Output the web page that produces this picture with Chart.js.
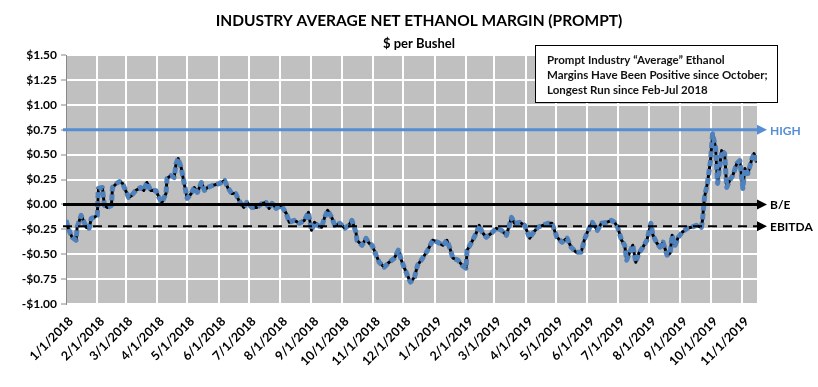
<!DOCTYPE html>
<html>
<head>
<meta charset="utf-8">
<script src="https://cdn.jsdelivr.net/npm/chart.js@4.4.1/dist/chart.umd.min.js"></script>
<style>
  html, body { margin: 0; padding: 0; background: #fff; }
  #wrap { width: 818px; height: 387px; }
</style>
</head>
<body>
<div id="wrap"><canvas id="margin"></canvas></div>
<script>
// days counted from 1/1/2018, margin in $ per bushel
var dayOffsets = [0, 3, 6, 10, 11, 15, 20, 23, 25, 28, 31, 32, 36, 38, 41, 45, 46, 50, 53, 56,
  59, 62, 65, 69, 74, 77, 80, 84, 89, 92, 95, 99, 100, 104, 107, 109, 111, 114, 117, 120,
  124, 127, 130, 134, 137, 140, 145, 152, 157, 160, 164, 168, 171, 176, 179, 184, 189, 194, 198, 201,
  204, 208, 213, 218, 221, 226, 231, 236, 240, 243, 246, 249, 253, 256, 259, 263, 266, 271, 276, 280,
  283, 287, 288, 293, 297, 300, 303, 307, 310, 315, 320, 325, 329, 332, 335, 340, 341, 345, 348, 353,
  358, 363, 368, 373, 377, 380, 383, 388, 392, 396, 397, 401, 406, 409, 412, 416, 421, 426, 431, 436,
  441, 444, 449, 454, 459, 462, 467, 472, 477, 481, 486, 491, 496, 500, 505, 510, 513, 516, 521, 526,
  530, 535, 540, 543, 546, 550, 553, 555, 558, 561, 564, 567, 571, 575, 579, 581, 585, 588, 591, 595,
  598, 600, 603, 606, 610, 615, 619, 624, 629, 630, 632, 635, 638, 640, 643, 645, 649, 652, 654, 657,
  660, 664, 667, 670, 672, 675, 679, 681, 684];
var margins = [-0.16, -0.26, -0.33, -0.36, -0.23, -0.11, -0.23, -0.24, -0.14, -0.13, -0.11, 0.16, 0.17, -0.01, -0.03, -0.01, 0.17, 0.21, 0.23, 0.21,
  0.14, 0.07, 0.09, 0.14, 0.17, 0.14, 0.22, 0.14, 0.14, 0.07, 0.02, 0.11, 0.26, 0.29, 0.27, 0.41, 0.46, 0.37, 0.21, 0.06,
  0.11, 0.17, 0.12, 0.22, 0.14, 0.17, 0.19, 0.21, 0.24, 0.17, 0.11, 0.11, 0.04, -0.03, 0.02, -0.03, -0.03, 0.01, 0.02, -0.04,
  0.01, -0.04, -0.01, -0.09, -0.18, -0.16, -0.19, -0.16, -0.08, -0.26, -0.18, -0.21, -0.23, -0.13, -0.06, -0.13, -0.21, -0.19, -0.24, -0.21,
  -0.16, -0.28, -0.36, -0.41, -0.34, -0.39, -0.41, -0.51, -0.58, -0.63, -0.58, -0.54, -0.46, -0.56, -0.64, -0.76, -0.78, -0.73, -0.61, -0.54,
  -0.46, -0.36, -0.38, -0.41, -0.36, -0.44, -0.54, -0.56, -0.61, -0.64, -0.46, -0.39, -0.29, -0.21, -0.28, -0.33, -0.29, -0.24, -0.26, -0.31,
  -0.13, -0.19, -0.18, -0.21, -0.34, -0.29, -0.23, -0.21, -0.19, -0.19, -0.33, -0.38, -0.34, -0.43, -0.48, -0.48, -0.36, -0.28, -0.18, -0.26,
  -0.19, -0.18, -0.16, -0.18, -0.23, -0.36, -0.41, -0.56, -0.48, -0.41, -0.58, -0.49, -0.43, -0.36, -0.19, -0.31, -0.39, -0.43, -0.38, -0.51,
  -0.49, -0.31, -0.41, -0.33, -0.28, -0.24, -0.23, -0.21, -0.23, -0.16, 0.07, 0.22, 0.44, 0.71, 0.57, 0.21, 0.54, 0.51, 0.17, 0.24,
  0.29, 0.41, 0.44, 0.16, 0.36, 0.31, 0.46, 0.51, 0.42];
var tickLabels = ['1/1/2018', '2/1/2018', '3/1/2018', '4/1/2018', '5/1/2018', '6/1/2018', '7/1/2018', '8/1/2018',
  '9/1/2018', '10/1/2018', '11/1/2018', '12/1/2018', '1/1/2019', '2/1/2019', '3/1/2019', '4/1/2019',
  '5/1/2019', '6/1/2019', '7/1/2019', '8/1/2019', '9/1/2019', '10/1/2019', '11/1/2019'];
var refValues = [0.75, 0, -0.22];
var refNames = ['HIGH', 'B/E', 'EBITDA'];
var noteLines = ['Prompt Industry \u201cAverage\u201d Ethanol', 'Margins Have Been Positive since October;', 'Longest Run since Feb-Jul 2018'];

var FONT = 'Lato, "Liberation Sans", sans-serif';
var DAY0 = Date.UTC(2018, 0, 1);
function dayOf(label) {
  var p = label.split('/');
  return Math.round((Date.UTC(+p[2], +p[0] - 1, +p[1]) - DAY0) / 86400000);
}
var tickDays = tickLabels.map(dayOf);

var points = dayOffsets.map(function(d, i) { return { x: d, y: margins[i] }; });

// gray plot area, title, reference lines with arrows, note box
var decor = {
  id: 'decor',
  beforeDraw: function(chart) {
    var c = chart.ctx, a = chart.chartArea;
    c.save();
    c.fillStyle = '#c0c0c0';
    c.fillRect(a.left, a.top, a.right - a.left, a.bottom - a.top);
    c.fillStyle = '#000';
    c.textAlign = 'center';
    c.textBaseline = 'middle';
    c.font = 'bold 15.5px ' + FONT;
    c.fillText('INDUSTRY AVERAGE NET ETHANOL MARGIN (PROMPT)', 419, 21);
    c.font = 'bold 13px ' + FONT;
    c.fillText('$ per Bushel', 419, 44);
    c.restore();
  },
  afterDatasetsDraw: function(chart) {
    var c = chart.ctx, a = chart.chartArea, ys = chart.scales.y;
    c.save();
    refValues.forEach(function(v, i) {
      var y = ys.getPixelForValue(v);
      var col = i === 0 ? '#558ed5' : '#000';
      c.strokeStyle = col;
      c.lineWidth = i === 2 ? 2 : 3;
      c.setLineDash(i === 2 ? [9, 6] : []);
      c.beginPath();
      c.moveTo(a.left - 3, y);
      c.lineTo(a.right + 2, y);
      c.stroke();
      c.setLineDash([]);
      c.fillStyle = col;
      c.beginPath();
      c.moveTo(a.right + 10, y);
      c.lineTo(a.right, y - 5);
      c.lineTo(a.right, y + 5);
      c.closePath();
      c.fill();
      c.font = 'bold 12px ' + FONT;
      c.textAlign = 'left';
      c.textBaseline = 'middle';
      c.fillText(refNames[i], a.right + 13, y + 1);
    });
    // note box
    c.fillStyle = '#fff';
    c.fillRect(535, 45, 242, 57);
    c.strokeStyle = '#000';
    c.lineWidth = 1;
    c.strokeRect(535.5, 45.5, 242, 57);
    c.fillStyle = '#111';
    c.font = 'bold 11.5px ' + FONT;
    c.textAlign = 'left';
    c.textBaseline = 'middle';
    noteLines.forEach(function(t, i) { c.fillText(t, 547, 60 + i * 15); });
    c.restore();
  }
};

(function() {
  var ctx = document.getElementById('margin').getContext('2d');
  new Chart(ctx, {
    type: 'line',
    data: {
      datasets: [{
        data: points,
        borderColor: '#4f81bd',
        borderWidth: 5,
        borderDash: [6, 3],
        borderJoinStyle: 'round',
        pointRadius: 0,
        tension: 0,
        order: 0
      }, {
        data: points,
        borderColor: '#000',
        borderWidth: 3,
        borderJoinStyle: 'round',
        pointRadius: 0,
        tension: 0,
        order: 1
      }]
    },
    options: {
      responsive: true,
      maintainAspectRatio: false,
      animation: false,
      layout: { padding: { top: 55, right: 61, left: 0, bottom: 0 } },
      plugins: {
        legend: { display: false },
        tooltip: { enabled: false }
      },
      scales: {
        x: {
          type: 'linear',
          min: 0,
          max: 684,
          afterBuildTicks: function(axis) {
            axis.ticks = tickDays.map(function(d) { return { value: d }; });
          },
          afterFit: function(axis) { axis.height = 83; },
          grid: { color: '#fff', lineWidth: 2, drawTicks: false },
          border: { display: false },
          ticks: {
            autoSkip: false,
            minRotation: 45,
            maxRotation: 45,
            padding: 10,
            labelOffset: 5,
            color: '#000',
            font: { family: FONT, size: 12.5, weight: 'bold' },
            callback: function(v) {
              var i = tickDays.indexOf(v);
              return i >= 0 ? tickLabels[i] : '';
            }
          }
        },
        y: {
          min: -1,
          max: 1.5,
          afterFit: function(axis) { axis.width = 66; },
          grid: { color: '#fff', lineWidth: 2, tickLength: 5, tickColor: '#888', tickWidth: 1 },
          border: { display: true, color: '#888', width: 1 },
          ticks: {
            stepSize: 0.25,
            padding: 4,
            color: '#000',
            font: { family: FONT, size: 12, weight: 'bold' },
            callback: function(v) {
              return (v < 0 ? '-$' : '$') + Math.abs(v).toFixed(2);
            }
          }
        }
      }
    },
    plugins: [decor]
  });
})();
</script>
</body>
</html>
